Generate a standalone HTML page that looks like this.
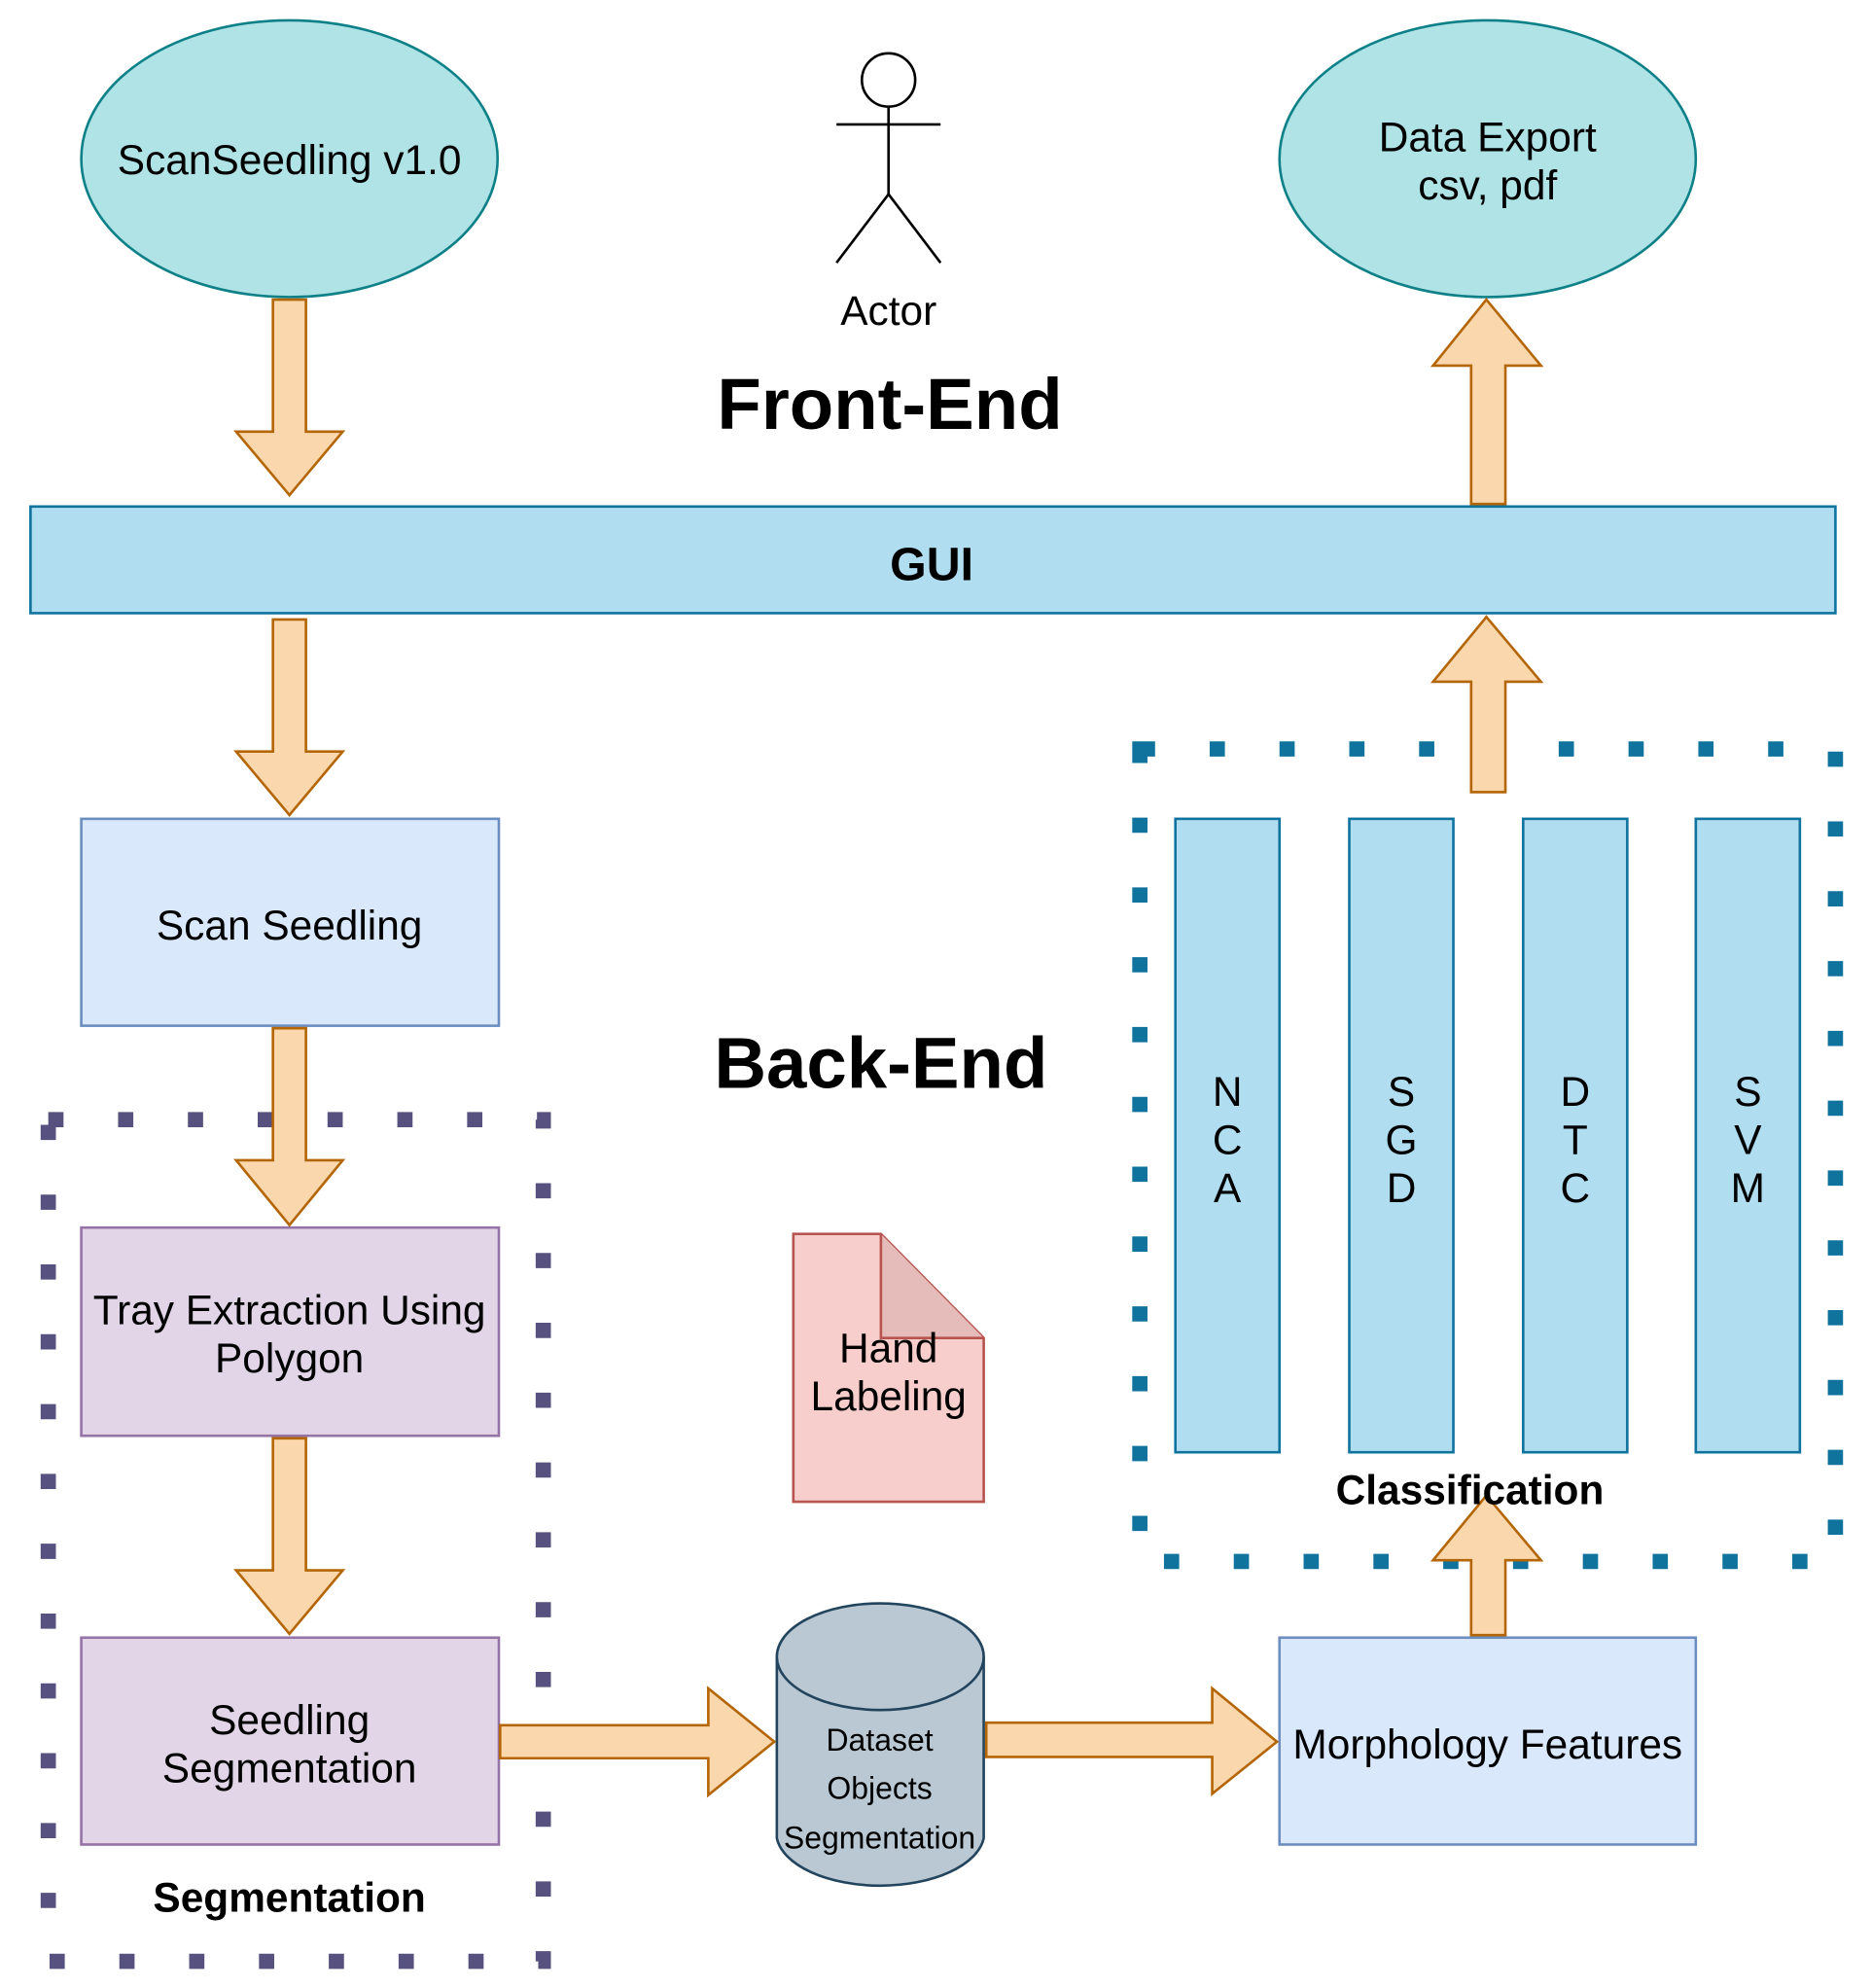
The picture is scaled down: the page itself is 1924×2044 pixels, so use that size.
<!DOCTYPE html>
<html><head><meta charset="utf-8"><style>html,body{margin:0;padding:0;background:#fff}svg{display:block}text{font-family:"Liberation Sans",Arial,sans-serif}</style></head><body>
<svg width="1924" height="2044" viewBox="0 0 1474 1566" xmlns="http://www.w3.org/2000/svg">
<rect width="1474" height="1566" fill="#fff"/>
<rect x="38" y="882" width="390" height="663" fill="none" stroke="#56517e" stroke-width="12" stroke-dasharray="12 43"/>
<rect x="898" y="590" width="548" height="640" fill="none" stroke="#10739e" stroke-width="12" stroke-dasharray="12 43"/>
<g stroke-width="2">
<ellipse cx="228" cy="125" rx="164" ry="109" fill="#b0e3e6" stroke="#0e8088"/>
<ellipse cx="1172" cy="125" rx="164" ry="109" fill="#b0e3e6" stroke="#0e8088"/>
<rect x="24" y="399" width="1422" height="84" fill="#b1ddf0" stroke="#10739e"/>
<rect x="64" y="645" width="329" height="163" fill="#dae8fc" stroke="#6c8ebf"/>
<rect x="64" y="967" width="329" height="164" fill="#e1d5e7" stroke="#9673a6"/>
<rect x="64" y="1290" width="329" height="163" fill="#e1d5e7" stroke="#9673a6"/>
<rect x="1008" y="1290" width="328" height="163" fill="#dae8fc" stroke="#6c8ebf"/>
<rect x="926" y="645" width="82" height="499" fill="#b1ddf0" stroke="#10739e"/>
<rect x="1063" y="645" width="82" height="499" fill="#b1ddf0" stroke="#10739e"/>
<rect x="1200" y="645" width="82" height="499" fill="#b1ddf0" stroke="#10739e"/>
<rect x="1336" y="645" width="82" height="499" fill="#b1ddf0" stroke="#10739e"/>
<path d="M625 972 H694 L775 1054 V1183 H625 Z" fill="#f8cecc" stroke="#b85450"/>
<path d="M694 972 V1054 H775" fill="#e5bcba" stroke="#b85450"/>
<path d="M612 1305 V1448 A82 42 0 0 0 775 1448 V1305" fill="#bac8d3" stroke="#23445d"/>
<ellipse cx="693.5" cy="1305" rx="81.5" ry="42" fill="#bac8d3" stroke="#23445d"/>
<g fill="none" stroke="#000">
<circle cx="700" cy="63" r="21" fill="#fff"/>
<path d="M700 84V153M659 98H741M700 153L659 207M700 153L741 207"/>
</g>
<g fill="#fad7ac" stroke="#b46504">
<path d="M215 236H241V340H270L228 390L186 340H215Z"/>
<path d="M215 488H241V592H270L228 642L186 592H215Z"/>
<path d="M215 810H241V914H270L228 965L186 914H215Z"/>
<path d="M215 1133H241V1237H270L228 1287L186 1237H215Z"/>
<path d="M1159 397V288H1129L1171 236L1214 288H1186V397Z"/>
<path d="M1159 624V537H1129L1171 486L1214 537H1186V624Z"/>
<path d="M1159 1288V1229H1129L1171 1178L1214 1229H1186V1288Z"/>
<path d="M394 1359H558V1330L610 1372L558 1414V1385H394Z"/>
<path d="M777 1357H955V1330L1006 1372L955 1413V1384H777Z"/>
</g>
</g>
<g font-size="32.5" text-anchor="middle" fill="#000">
<text x="228" y="137">ScanSeedling v1.0</text>
<text x="1172" y="119">Data Export</text>
<text x="1172" y="157">csv, pdf</text>
<text x="700" y="256">Actor</text>
<text x="228" y="740">Scan Seedling</text>
<text x="228" y="1043">Tray Extraction Using</text>
<text x="228" y="1081">Polygon</text>
<text x="228" y="1366">Seedling</text>
<text x="228" y="1404">Segmentation</text>
<text x="700" y="1073">Hand</text>
<text x="700" y="1111">Labeling</text>
<text x="1172" y="1385">Morphology Features</text>
<text x="967" y="871">N</text><text x="967" y="909">C</text><text x="967" y="947">A</text>
<text x="1104" y="871">S</text><text x="1104" y="909">G</text><text x="1104" y="947">D</text>
<text x="1241" y="871">D</text><text x="1241" y="909">T</text><text x="1241" y="947">C</text>
<text x="1377" y="871">S</text><text x="1377" y="909">V</text><text x="1377" y="947">M</text>
</g>
<g font-size="24.5" text-anchor="middle">
<text x="693" y="1379">Dataset</text>
<text x="693" y="1417">Objects</text>
<text x="693" y="1456">Segmentation</text>
</g>
<g font-weight="bold" text-anchor="middle">
<text x="701" y="338" font-size="57">Front-End</text>
<text x="694" y="857" font-size="57">Back-End</text>
<text x="734" y="457" font-size="37">GUI</text>
<text x="228" y="1506" font-size="32.5">Segmentation</text>
<text x="1158" y="1185" font-size="32.5">Classification</text>
</g>
</svg>
</body></html>
